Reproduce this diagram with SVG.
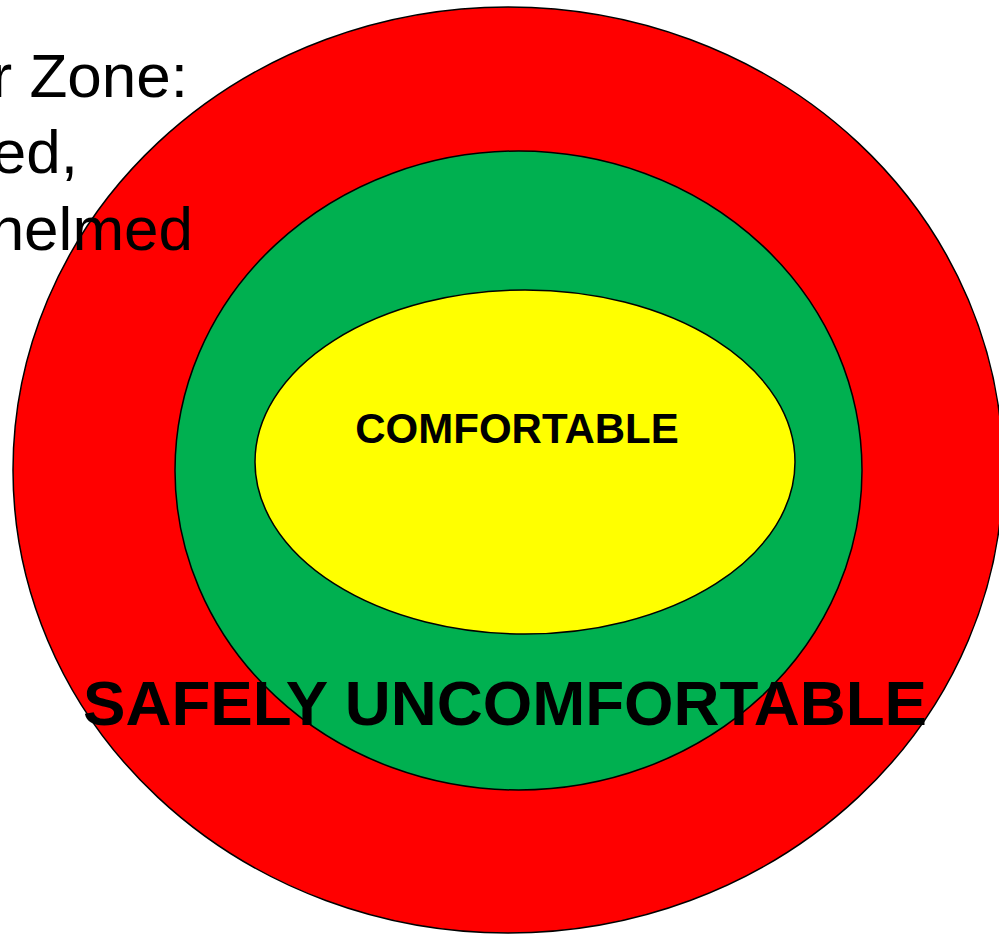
<svg xmlns="http://www.w3.org/2000/svg" width="999" height="935" viewBox="0 0 999 935">
<style>
.zone{stroke:#000;stroke-width:1.5}
.lbl{font-family:"Liberation Sans",Arial,sans-serif;fill:#000}
.b{font-weight:bold}
</style>
<rect width="999" height="935" fill="#fff"/>
<g id="outer-zone">
<ellipse class="zone" cx="508" cy="470" rx="495" ry="463" fill="#ff0000"/>
</g>
<g id="middle-zone">
<ellipse class="zone" cx="518.5" cy="470.5" rx="343.5" ry="319.5" fill="#00b050"/>
</g>
<g id="inner-zone">
<ellipse class="zone" cx="525" cy="462" rx="270" ry="172" fill="#ffff00"/>
<text class="lbl b" x="517" y="443" font-size="42" text-anchor="middle">COMFORTABLE</text>
</g>
<g id="middle-label">
<text class="lbl b" x="505" y="725" font-size="63" text-anchor="middle" textLength="844" lengthAdjust="spacingAndGlyphs">SAFELY UNCOMFORTABLE</text>
</g>
<g id="outer-label" class="lbl" font-size="62" text-anchor="end">
<text x="188" y="97">r Zone:</text>
<text x="78" y="173">ed,</text>
<text x="193" y="250">helmed</text>
</g>
<g id="connectors"/>
</svg>
